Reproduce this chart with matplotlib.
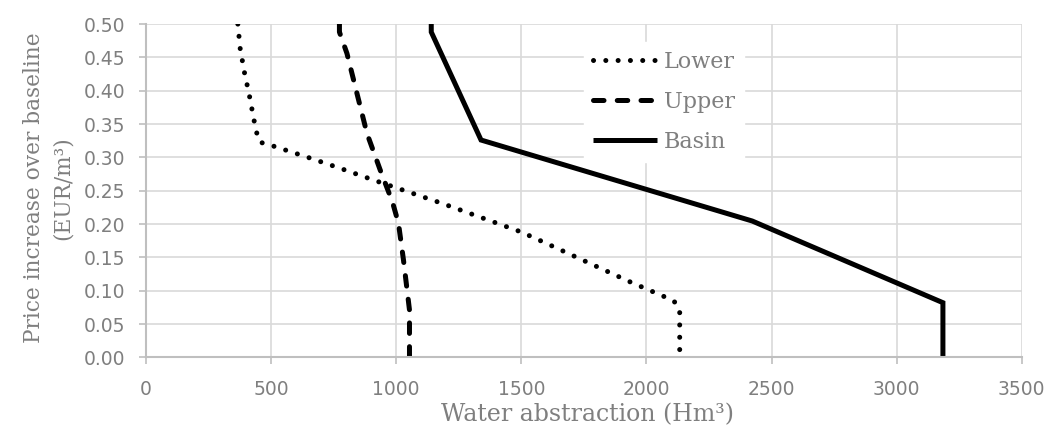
import matplotlib.pyplot as plt

# (x: Hm3, y: EUR/m3)
lower_x = [367, 376, 393, 413, 431, 440, 453, 500, 639, 773, 909, 1183, 1500, 1629, 1936, 2109, 2133, 2133]
lower_y = [0.50, 0.464, 0.428, 0.393, 0.357, 0.34, 0.323, 0.318, 0.301, 0.284, 0.266, 0.231, 0.188, 0.166, 0.113, 0.085, 0.072, 0.0]

upper_x = [773, 773, 803, 883, 936, 985, 1009, 1029, 1053, 1053]
upper_y = [0.50, 0.488, 0.456, 0.336, 0.281, 0.233, 0.201, 0.146, 0.071, 0.0]

basin_x = [1140, 1140, 1339, 2423, 3185, 3185]
basin_y = [0.50, 0.488, 0.326, 0.2045, 0.082, 0.0]

x_ticks = [0, 500, 1000, 1500, 2000, 2500, 3000, 3500]
y_ticks = [0.00, 0.05, 0.10, 0.15, 0.20, 0.25, 0.30, 0.35, 0.40, 0.45, 0.50]

grey = '#7f7f7f'
serif = 'DejaVu Serif'
sans = 'DejaVu Sans'

fig = plt.figure(figsize=(10.46, 4.29), dpi=100)
ax = fig.add_axes([0.1396, 0.167, 0.8372, 0.777])

lw = 3.6
ax.plot(lower_x, lower_y, color='black', lw=lw, linestyle=(0, (0.01, 2.45)),
        dash_capstyle='round', solid_joinstyle='round', label='Lower')
ax.plot(upper_x, upper_y, color='black', lw=lw, linestyle=(0, (2.1, 2.65)),
        dash_capstyle='round', label='Upper')
ax.plot(basin_x, basin_y, color='black', lw=lw, solid_capstyle='butt',
        solid_joinstyle='miter', label='Basin')

ax.set_xlim(0, 3500)
ax.set_ylim(0, 0.5)
ax.set_xticks(x_ticks)
ax.set_yticks(y_ticks)
ax.set_yticklabels([f'{v:.2f}' for v in y_ticks])

ax.grid(True, color='#d9d9d9', linewidth=1.2)
ax.set_axisbelow(True)
for s in ['top', 'right']:
    ax.spines[s].set_visible(False)
for s in ['left', 'bottom']:
    ax.spines[s].set_color('#bfbfbf')
    ax.spines[s].set_linewidth(1.5)

ax.tick_params(axis='both', colors='#bfbfbf', labelcolor=grey, labelsize=13.5,
               length=5, width=1.2, direction='out')
ax.tick_params(axis='x', pad=11)
ax.tick_params(axis='y', pad=10)
for lab in ax.get_xticklabels() + ax.get_yticklabels():
    lab.set_family(sans)

ax.set_xlabel('Water abstraction (Hm³)', fontsize=17, color=grey, family=serif)
ax.xaxis.set_label_coords(0.5036, -0.138)
ax.set_ylabel('Price increase over baseline\n(EUR/m³)', fontsize=15.6, color=grey,
              family=serif, linespacing=1.35)
ax.yaxis.set_label_coords(-0.083, 0.508)

leg = ax.legend(loc='upper left', bbox_to_anchor=(573 / 1046, 1 - 31 / 429),
                bbox_transform=fig.transFigure, frameon=True, fancybox=False,
                edgecolor='white', facecolor='white', framealpha=1,
                prop={'family': serif, 'size': 16}, handlelength=2.9,
                handletextpad=0.3, labelspacing=0.81, borderpad=0.4)
for t in leg.get_texts():
    t.set_color(grey)

fig.savefig('out.png', dpi=100)
